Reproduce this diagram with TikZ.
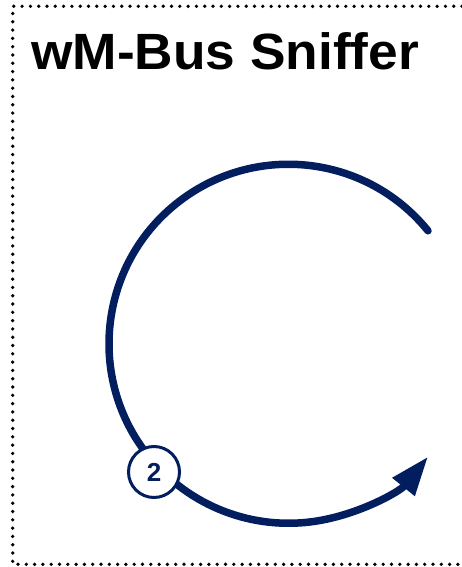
\documentclass[tikz,border=0pt]{standalone}
\usepackage{fontspec}
\setmainfont{Liberation Sans}
\usetikzlibrary{arrows.meta,calc}
\definecolor{navy}{RGB}{2,30,94}
\begin{document}
\begin{tikzpicture}[x=1pt,y=1pt,
  border/.style={line width=3.7pt,line cap=round,dash pattern=on 0pt off 8.3pt},
  flow/.style={navy,line width=7.5pt,line cap=round},
  badge/.style={circle,draw=navy,line width=3pt,fill=white,minimum size=51pt,inner sep=0pt,
    text=navy,font=\fontsize{26}{28}\selectfont\bfseries},
  title/.style={anchor=base west,inner sep=0pt,font=\fontsize{51}{56}\selectfont\bfseries}]
\useasboundingbox (0,0) rectangle (462,-567);
\draw[border] (462,-6.3) -- (12.7,-6.3) -- (12.7,-564.3) -- (462,-564.3);
\node[title] (t) at (31,-70) {\scalebox{1.045}[1]{wM-Bus Sniffer}};
\coordinate (c) at (288.5,-343.75);
\coordinate (s) at ($(c)+(39:179.5)$);
\draw[flow,-{Triangle[length=39pt,width=27pt]}] (s) arc[start angle=39,end angle=321,radius=179.5] coordinate (e);
\node[badge] (n2) at (154,-472) {2};
\end{tikzpicture}
\end{document}
